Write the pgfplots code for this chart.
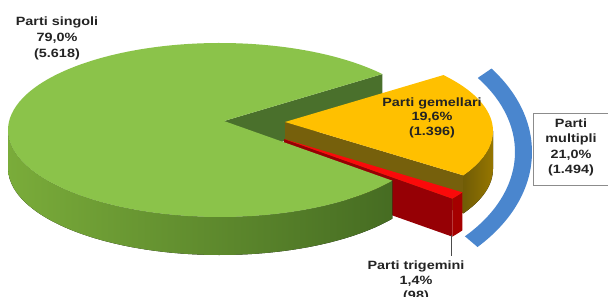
\documentclass[border=0pt]{standalone}
\usepackage{pgfplots}
\pgfplotsset{compat=1.18}
\usepackage{pgfplotstable}
\usepackage{fontspec}
\setmainfont{Liberation Sans}
\usetikzlibrary{calc}

\definecolor{gtop}{RGB}{139,195,74}
\definecolor{gsideL}{RGB}{122,172,58}
\definecolor{gsideR}{RGB}{70,108,34}
\definecolor{gcut}{RGB}{74,112,44}
\definecolor{ytop}{RGB}{255,192,0}
\definecolor{ysideL}{RGB}{112,92,6}
\definecolor{ysideR}{RGB}{150,118,0}
\definecolor{ycut}{RGB}{118,96,12}
\definecolor{rtop}{RGB}{250,10,10}
\definecolor{rside}{RGB}{165,0,0}
\definecolor{rcut}{RGB}{150,0,5}
\definecolor{arcblue}{RGB}{74,134,206}
\definecolor{labtxt}{RGB}{35,35,35}
\definecolor{boxgray}{RGB}{140,140,140}

\newcommand\lab[1]{\scalebox{1.2}[1]{#1}}
\tikzset{txt/.style={font=\fontsize{12}{14}\selectfont\bfseries, text=labtxt, inner sep=0pt}}

\pgfplotstableread{
label value
singoli 5618
gemellari 1396
trigemini 98
}\piedata

\begin{document}
\begin{tikzpicture}
\pgfplotstablegetelem{0}{value}\of\piedata \let\vA\pgfplotsretval
\pgfplotstablegetelem{1}{value}\of\piedata \let\vB\pgfplotsretval
\pgfplotstablegetelem{2}{value}\of\piedata \let\vC\pgfplotsretval
\pgfmathsetmacro\tot{(\vA+\vB+\vC)/100}
\pgfmathsetmacro\fA{(\vA/100)/\tot}
\pgfmathsetmacro\fC{(\vC/100)/\tot}
\pgfmathsetmacro\angGs{40}
\pgfmathsetmacro\angGe{\angGs+360*\fA}
\pgfmathsetmacro\angRe{\angGe+360*\fC}
\pgfmathsetmacro\angYe{\angGs+360}
\begin{axis}[x=1pt,y=1pt,xmin=0,xmax=608,ymin=0,ymax=297,
  hide axis, clip=false]
\coordinate (BL) at (axis cs:0,0);
\coordinate (TR) at (axis cs:608,297);
% centres
\coordinate (Eg) at (axis cs:220,167);
\coordinate (Pg) at (axis cs:224,176);
\coordinate (Ey) at (axis cs:281,166);
\coordinate (Py) at (axis cs:285,175);
\coordinate (Er) at (axis cs:280,149);
\coordinate (Pr) at (axis cs:284,158);
\coordinate (Eb) at (axis cs:320,145);

% green radial face at start angle (visible notch)
\fill[gcut] (Pg) -- ($(Eg)+(\angGs:212pt and 87pt)$) -- ++(0,-38pt) -- ($(Pg)+(0,-38pt)$) -- cycle;

% yellow slice
\fill[ycut] (Py) -- ($(Ey)+(\angRe:212pt and 87pt)$) -- ++(0,-38pt) -- ($(Py)+(0,-38pt)$) -- cycle;
\fill[left color=ysideL, right color=ysideR] ($(Ey)+(\angRe:212pt and 87pt)$)
   arc[start angle=\angRe, end angle=360, x radius=212pt, y radius=87pt] -- ++(0,-38pt)
   arc[start angle=360, end angle=\angRe, x radius=212pt, y radius=87pt] -- cycle;
\fill[ytop] (Py) -- ($(Ey)+(\angRe:212pt and 87pt)$)
   arc[start angle=\angRe, end angle=\angYe, x radius=212pt, y radius=87pt] -- cycle;

% red slice
\fill[rcut] (Pr) -- ($(Er)+(\angGe:212pt and 87pt)$) -- ++(0,-38pt) -- ($(Pr)+(0,-38pt)$) -- cycle;
\fill[rside] ($(Er)+(\angGe:212pt and 87pt)$)
   arc[start angle=\angGe, end angle=\angRe, x radius=212pt, y radius=87pt] -- ++(0,-38pt)
   arc[start angle=\angRe, end angle=\angGe, x radius=212pt, y radius=87pt] -- cycle;
\fill[rtop] (Pr) -- ($(Er)+(\angGe:212pt and 87pt)$)
   arc[start angle=\angGe, end angle=\angRe, x radius=212pt, y radius=87pt] -- cycle;

% green slice
\fill[left color=gsideL, right color=gsideR] ($(Eg)+(180:212pt and 87pt)$)
   arc[start angle=180, end angle=\angGe, x radius=212pt, y radius=87pt] -- ++(0,-38pt)
   arc[start angle=\angGe, end angle=180, x radius=212pt, y radius=87pt] -- cycle;
\fill[gtop] (Pg) -- ($(Eg)+(\angGs:212pt and 87pt)$)
   arc[start angle=\angGs, end angle=\angGe, x radius=212pt, y radius=87pt] -- cycle;

% blue bracket arc
\fill[arcblue] ($(Eb)+(-42:212pt and 142pt)$)
   arc[start angle=-42, end angle=36, x radius=212pt, y radius=142pt]
   -- ($(Eb)+(36:195pt and 126pt)$)
   arc[start angle=36, end angle=-42, x radius=195pt, y radius=126pt] -- cycle;

% labels
\node[txt] at (axis cs:57,275) {\lab{Parti singoli}};
\node[txt] at (axis cs:57,259) {\lab{79,0\%}};
\node[txt] at (axis cs:57,243) {\lab{(5.618)}};

\node[txt] at (axis cs:432,194) {\lab{Parti gemellari}};
\node[txt] at (axis cs:432,179.5) {\lab{19,6\%}};
\node[txt] at (axis cs:432,165) {\lab{(1.396)}};

\draw[draw=boxgray, fill=white, line width=0.8pt] (axis cs:533,112) rectangle (axis cs:612,184);
\node[txt] at (axis cs:571,174) {\lab{Parti}};
\node[txt] at (axis cs:571,158) {\lab{multipli}};
\node[txt] at (axis cs:571,142) {\lab{21,0\%}};
\node[txt] at (axis cs:571,127) {\lab{(1.494)}};

\draw[gray!60!black, line width=0.6pt] (axis cs:451,62) -- (axis cs:451,41);
\node[txt] at (axis cs:416,30.5) {\lab{Parti trigemini}};
\node[txt] at (axis cs:416,15.5) {\lab{1,4\%}};
\node[txt] at (axis cs:416,1) {\lab{(98)}};
\end{axis}
\pgfresetboundingbox
\path[use as bounding box] (BL) rectangle (TR);
\end{tikzpicture}
\end{document}
